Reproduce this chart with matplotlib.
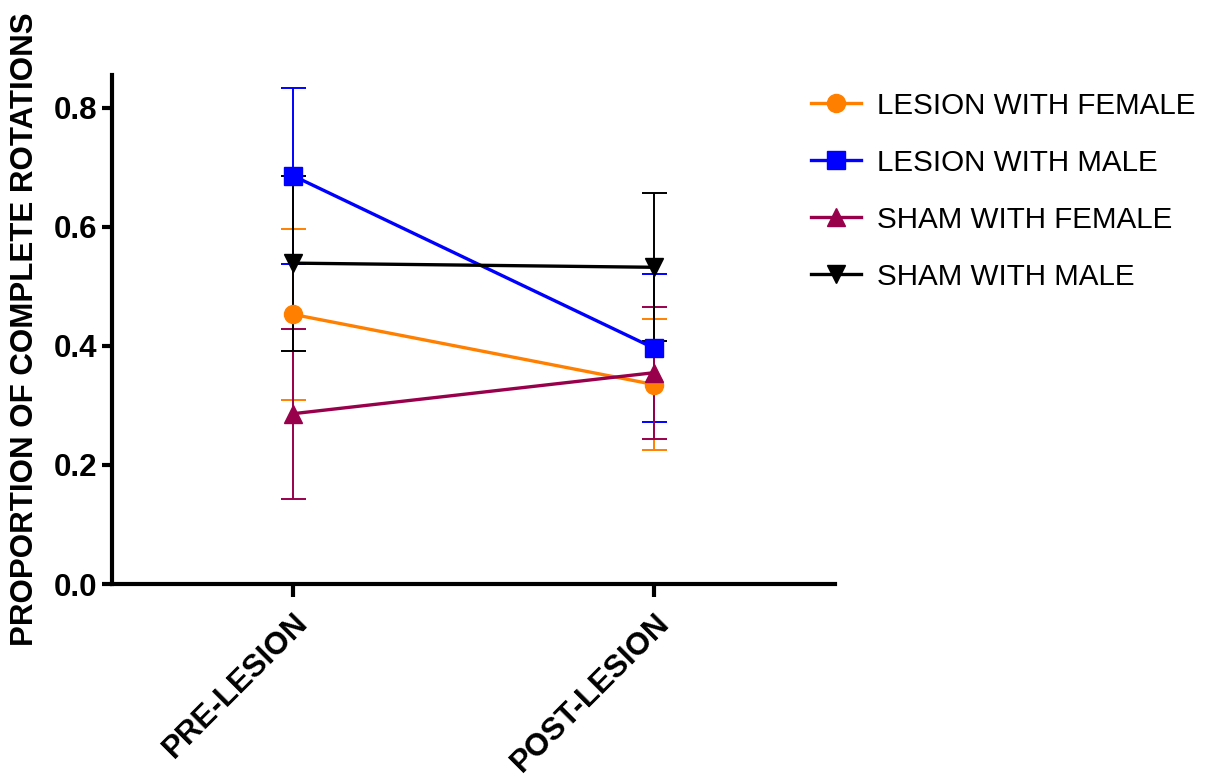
import matplotlib
matplotlib.use("Agg")
import matplotlib.pyplot as plt
from matplotlib.lines import Line2D

plt.rcParams["font.family"] = ["Liberation Sans", "DejaVu Sans"]

# data (mean +/- error)
phases = ["PRE-LESION", "POST-LESION"]
series = ["LESION WITH FEMALE", "LESION WITH MALE", "SHAM WITH FEMALE", "SHAM WITH MALE"]
lesion_female = [0.453, 0.335]
lesion_female_err = [0.144, 0.110]
lesion_male = [0.686, 0.396]
lesion_male_err = [0.148, 0.124]
sham_female = [0.286, 0.355]
sham_female_err = [0.143, 0.111]
sham_male = [0.539, 0.532]
sham_male_err = [0.147, 0.124]

means = [lesion_female, lesion_male, sham_female, sham_male]
errs = [lesion_female_err, lesion_male_err, sham_female_err, sham_male_err]
colors = ["#FF8000", "#0000FF", "#99004C", "#000000"]
markers = ["o", "s", "^", "v"]

fig = plt.figure(figsize=(12.12, 7.8), dpi=100)
ax = fig.add_axes([112 / 1212, 1 - 584 / 780, (835 - 112) / 1212, (584 - 75) / 780])

x = list(range(len(phases)))
handles = []
for m, e, c, mk, lab in zip(means, errs, colors, markers, series):
    ax.errorbar(x, m, yerr=e, color=c, marker=mk, markersize=13, linewidth=2.4,
                elinewidth=1.4, capsize=9, capthick=1.4, zorder=3)
    handles.append(Line2D([], [], color=c, marker=mk, markersize=13, linewidth=2.4, label=lab))

ax.set_xlim(-0.5, 1.5)
ax.set_ylim(0, 0.855)
ax.set_yticks([0.0, 0.2, 0.4, 0.6, 0.8])
ax.set_yticklabels(["0.0", "0.2", "0.4", "0.6", "0.8"], fontsize=22.5, fontweight="bold")
ax.set_xticks(x)
ax.set_xticklabels(phases, rotation=45, ha="right", va="top", rotation_mode="anchor",
                   fontsize=22.5, fontweight="bold")
ax.spines["top"].set_visible(False)
ax.spines["right"].set_visible(False)
for s in ["left", "bottom"]:
    ax.spines[s].set_linewidth(3)
ax.tick_params(axis="both", width=3, length=7, direction="out")
ax.tick_params(axis="x", length=9, pad=8)
ax.set_ylabel("PROPORTION OF COMPLETE ROTATIONS", fontsize=22.5, fontweight="bold", labelpad=10)

ax.legend(handles=handles, loc="upper left", bbox_to_anchor=(799 / 1212, 1 - 80 / 780),
          bbox_transform=fig.transFigure, frameon=False, fontsize=21.3,
          handlelength=1.7, handletextpad=0.55, labelspacing=0.98, borderaxespad=0)

fig.savefig("out.png", dpi=100)
